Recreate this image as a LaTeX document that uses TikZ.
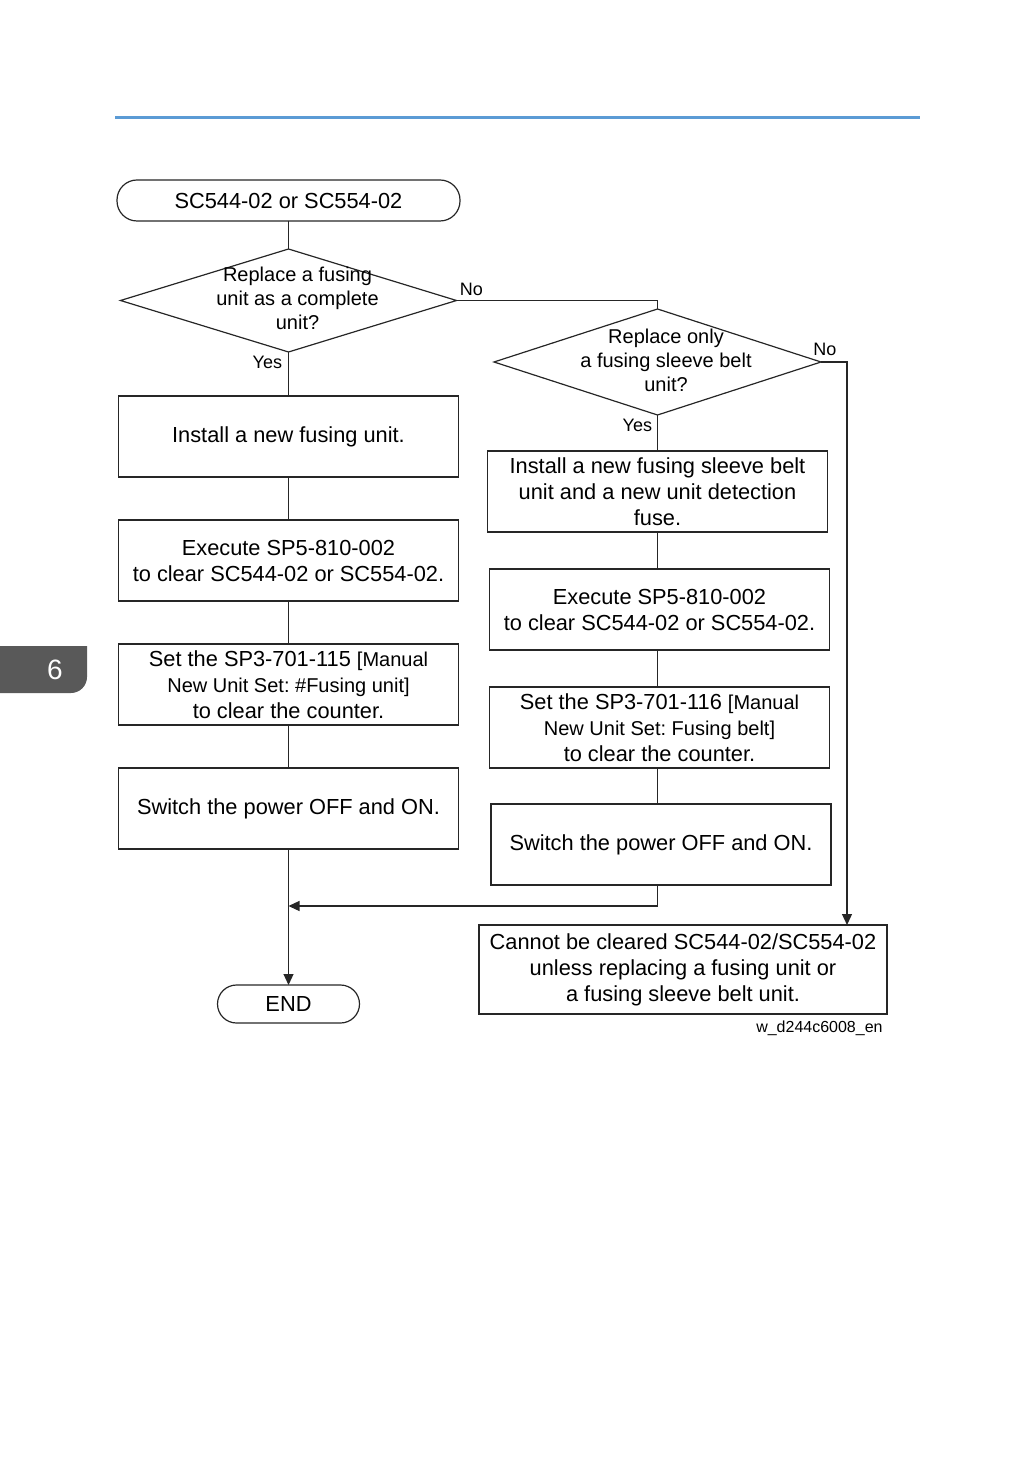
\documentclass[tikz,border=0pt]{standalone}
\usepackage{fontspec}
\setmainfont{Liberation Sans}
\usepackage{tikz}
\usetikzlibrary{shapes.geometric,positioning,arrows.meta}
\definecolor{rulerblue}{RGB}{91,155,213}
\definecolor{tabgray}{RGB}{89,89,89}
\frenchspacing
\newcommand{\mainsz}{\fontsize{10.9}{13}\selectfont}
\newcommand{\smallsz}{\fontsize{10}{13}\selectfont}
\tikzset{
  link/.style={draw=black!85, line width=0.6pt},
  arr/.style={link, -{Triangle[length=5.5pt,width=5pt]}},
  terminal/.style={link, rectangle, rounded corners=9.5pt, inner sep=0pt, outer sep=0pt, font=\mainsz},
  procbox/.style={link, rectangle, minimum width=170pt, minimum height=40.5pt, inner sep=0pt, outer sep=0pt, align=center, font=\mainsz},
  decision/.style={link, diamond, inner sep=0pt, outer sep=0pt},
  dtext/.style={align=center, inner sep=0pt, font=\fontsize{10}{12}\selectfont},
  lbl/.style={inner sep=1pt, font=\fontsize{9}{10}\selectfont},
}
\begin{document}
\begin{tikzpicture}[x=0.5pt,y=-0.5pt]
 \useasboundingbox (0,0) rectangle (1036,1470);
% page marks
 \draw[rulerblue, line width=1.5pt] (115,118) -- (920,118);
 \fill[tabgray] (0,646) -- (87,646) [rounded corners=8pt] -- (87,693) [sharp corners] -- (0,693) -- cycle;
 \node[text=white, font=\fontsize{14}{14}\selectfont, inner sep=0pt] (tabnum) at (55,670) {6};

% nodes
 \node[terminal, minimum width=171.5pt, minimum height=20.5pt, rounded corners=10pt] (start) at (288.5,200.5) {SC544-02 or SC554-02};
 \node[decision, minimum width=168pt, minimum height=51.5pt, below=14pt of start] (d1) {};
 \node[dtext] (d1t) at ([xshift=4.5pt,yshift=1.25pt]d1.center) {Replace a fusing\\unit as a complete\\unit?};
 \node[procbox, below=22pt of d1] (b1) {Install a new fusing unit.};
 \node[procbox, below=21.5pt of b1] (b2) {Execute SP5-810-002\\to clear SC544-02 or SC554-02.};
 \node[procbox, below=21.5pt of b2] (b3) {Set the SP3-701-115 {\smallsz[Manual}\\{\smallsz New Unit Set: \#Fusing unit]}\\to clear the counter.};
 \node[procbox, below=21.5pt of b3] (b4) {Switch the power OFF and ON.};
 \node[terminal, minimum width=71pt, minimum height=19pt, below=68pt of b4] (stop) {END};

 \node[decision, minimum width=163.5pt, minimum height=53pt] (d2) at (657.5,362) {};
 \node[dtext] (d2t) at ([xshift=4.25pt,yshift=1pt]d2.center) {Replace only\\a fusing sleeve belt\\unit?};
 \node[procbox, below=18pt of d2] (b5) {Install a new fusing sleeve belt\\unit and a new unit detection\\fuse.};
 \node[procbox, below=18.5pt of b5, xshift=1pt] (b6) {Execute SP5-810-002\\to clear SC544-02 or SC554-02.};
 \node[procbox, below=18.5pt of b6] (b7) {Set the SP3-701-116 {\smallsz[Manual}\\{\smallsz New Unit Set: Fusing belt]}\\to clear the counter.};
 \node[procbox, below=18pt of b7, xshift=0.75pt] (b8) {Switch the power OFF and ON.};
 \node[procbox, minimum width=204pt, minimum height=44.5pt] (b9) at (683,969.5) {Cannot be cleared SC544-02/SC554-02\\unless replacing a fusing unit or\\a fusing sleeve belt unit.};

% labels
 \node[lbl, anchor=south west] (no1) at ([xshift=0.5pt,yshift=1pt]d1.east) {No};
 \node[lbl, anchor=north east] (yes1) at ([xshift=-2pt,yshift=-1pt]d1.south) {Yes};
 \node[lbl, anchor=south west] (no2) at ([xshift=-5pt,yshift=2pt]d2.east) {No};
 \node[lbl, anchor=north east] (yes2) at ([xshift=-1.5pt,yshift=-1pt]d2.south) {Yes};
 \node[font=\fontsize{8}{9}\selectfont, anchor=east, inner sep=0pt] (figid) at (883,1028) {w\_d244c6008\_en};

% edges
 \coordinate (join) at (b4.south |- 0,906);
 \coordinate (nofeed) at ([xshift=82pt]b9.north);
 \draw[link] (start.south) -- (d1.north);
 \draw[link] (d1.south) -- (b1.north);
 \draw[link] (d1.east) -| (d2.north);
 \draw[link] (b1) -- (b2);
 \draw[link] (b2) -- (b3);
 \draw[link] (b3) -- (b4);
 \draw[arr] (b4.south) -- (stop.north);
 \draw[link] (d2.south) -- (b5.north);
 \draw[link] (b5.south) -- (b5.south |- b6.north);
 \draw[link] (b5.south |- b6.south) -- (b5.south |- b7.north);
 \draw[link] (b5.south |- b7.south) -- (b5.south |- b8.north);
 \draw[arr] (b5.south |- b8.south) |- (join);
 \draw[arr] (d2.east) -| (nofeed);
\end{tikzpicture}
\end{document}
